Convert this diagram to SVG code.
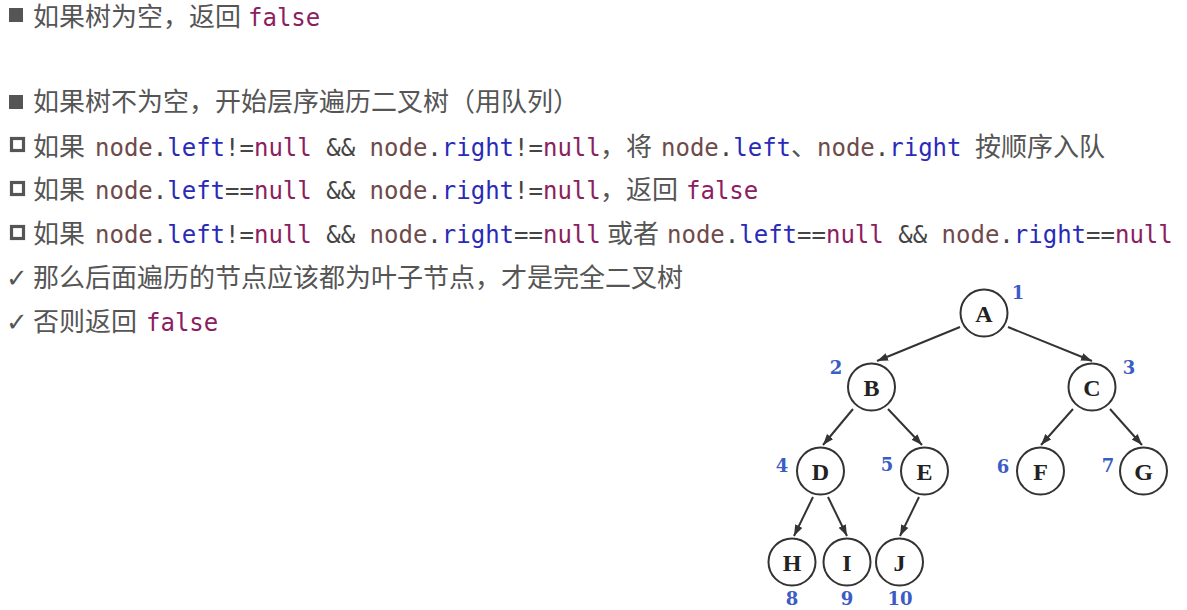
<svg xmlns="http://www.w3.org/2000/svg" width="1187" height="610" viewBox="0 0 1187 610">
<style>
.cjk{font-family:"Noto Sans CJK SC","Noto Sans",sans-serif;font-size:26px;fill:#555;}
.m{font-family:"DejaVu Sans Mono","Liberation Mono",monospace;font-size:24px;}
.n{fill:#6e4a4a}.d{fill:#444}.k{fill:#2a2ab8}.p{fill:#8b2060}
.chk{font-family:"DejaVu Sans",sans-serif;font-size:26px;fill:#555;}
.node circle{fill:#fff;stroke:#333;stroke-width:2;}
.node text{font-family:"Liberation Serif","DejaVu Serif",serif;font-weight:bold;font-size:24px;fill:#222;text-anchor:middle;}
.lbl{font-family:"DejaVu Serif","Liberation Serif",serif;font-weight:bold;font-size:18px;fill:#3a5cc4;text-anchor:middle;}
.edge{stroke:#333;stroke-width:2;fill:none;marker-end:url(#ah);}
.hb{fill:none;stroke:#555;stroke-width:3.2;}
</style>
<defs>
<marker id="ah" markerUnits="userSpaceOnUse" markerWidth="12" markerHeight="10" refX="11" refY="4" orient="auto">
<path d="M0,0 L11,4 L0,8 Z" fill="#333"/>
</marker>
</defs>
<rect width="1187" height="610" fill="#fff"/>
<g id="text">
<rect x="9" y="8" width="14" height="14" fill="#555"/>
<text y="26"><tspan class="cjk" x="33">如果树为空，返回</tspan><tspan class="m p" x="248">false</tspan></text>
<rect x="9" y="95" width="14" height="14" fill="#555"/>
<text y="111" class="cjk" x="33">如果树不为空，开始层序遍历二叉树（用队列）</text>

<rect class="hb" x="11.5" y="138.5" width="12" height="12"/>
<text y="156"><tspan class="cjk" x="33">如果</tspan><tspan class="m n" x="95">node</tspan><tspan class="m d">.</tspan><tspan class="m k">left</tspan><tspan class="m d">!=</tspan><tspan class="m p">null</tspan><tspan class="m d"> &amp;&amp; </tspan><tspan class="m n">node</tspan><tspan class="m d">.</tspan><tspan class="m k">right</tspan><tspan class="m d">!=</tspan><tspan class="m p">null</tspan><tspan class="cjk" x="600">，将</tspan><tspan class="m n" x="661">node</tspan><tspan class="m d">.</tspan><tspan class="m k">left</tspan><tspan class="cjk" x="791">、</tspan><tspan class="m n" x="817">node</tspan><tspan class="m d">.</tspan><tspan class="m k">right</tspan><tspan class="cjk" x="975">按顺序入队</tspan></text>

<rect class="hb" x="11.5" y="182.5" width="12" height="12"/>
<text y="199"><tspan class="cjk" x="33">如果</tspan><tspan class="m n" x="95">node</tspan><tspan class="m d">.</tspan><tspan class="m k">left</tspan><tspan class="m d">==</tspan><tspan class="m p">null</tspan><tspan class="m d"> &amp;&amp; </tspan><tspan class="m n">node</tspan><tspan class="m d">.</tspan><tspan class="m k">right</tspan><tspan class="m d">!=</tspan><tspan class="m p">null</tspan><tspan class="cjk" x="600">，返回</tspan><tspan class="m p" x="686">false</tspan></text>

<rect class="hb" x="11.5" y="226.5" width="12" height="12"/>
<text y="243"><tspan class="cjk" x="33">如果</tspan><tspan class="m n" x="95">node</tspan><tspan class="m d">.</tspan><tspan class="m k">left</tspan><tspan class="m d">!=</tspan><tspan class="m p">null</tspan><tspan class="m d"> &amp;&amp; </tspan><tspan class="m n">node</tspan><tspan class="m d">.</tspan><tspan class="m k">right</tspan><tspan class="m d">==</tspan><tspan class="m p">null</tspan><tspan class="cjk" x="607">或者</tspan><tspan class="m n" x="667">node</tspan><tspan class="m d">.</tspan><tspan class="m k">left</tspan><tspan class="m d">==</tspan><tspan class="m p">null</tspan><tspan class="m d"> &amp;&amp; </tspan><tspan class="m n">node</tspan><tspan class="m d">.</tspan><tspan class="m k">right</tspan><tspan class="m d">==</tspan><tspan class="m p">null</tspan></text>

<text class="chk" x="6" y="287">✓</text>
<text y="287" class="cjk" x="33">那么后面遍历的节点应该都为叶子节点，才是完全二叉树</text>
<text class="chk" x="6" y="331">✓</text>
<text y="331"><tspan class="cjk" x="33">否则返回</tspan><tspan class="m p" x="146">false</tspan></text>
</g>

<g id="connectors">
<line class="edge" x1="960" y1="327" x2="877" y2="361"/>
<line class="edge" x1="1008" y1="327" x2="1092" y2="361"/>
<line class="edge" x1="853" y1="409" x2="823" y2="445"/>
<line class="edge" x1="888" y1="409" x2="922" y2="445"/>
<line class="edge" x1="1073" y1="409" x2="1041" y2="445"/>
<line class="edge" x1="1110" y1="409" x2="1142" y2="445"/>
<line class="edge" x1="813" y1="497" x2="794" y2="536"/>
<line class="edge" x1="828" y1="497" x2="847" y2="536"/>
<line class="edge" x1="919" y1="497" x2="900" y2="536"/>
</g>

<g id="node-A" class="node"><circle cx="984" cy="313" r="23.5"/><text x="984" y="321.5">A</text></g>
<g id="node-B" class="node"><circle cx="871.5" cy="387" r="23.5"/><text x="871.5" y="395.5">B</text></g>
<g id="node-C" class="node"><circle cx="1092" cy="387" r="23.5"/><text x="1092" y="395.5">C</text></g>
<g id="node-D" class="node"><circle cx="820.5" cy="471" r="23.5"/><text x="820.5" y="479.5">D</text></g>
<g id="node-E" class="node"><circle cx="924.5" cy="471" r="23.5"/><text x="924.5" y="479.5">E</text></g>
<g id="node-F" class="node"><circle cx="1040.5" cy="471" r="23.5"/><text x="1040.5" y="479.5">F</text></g>
<g id="node-G" class="node"><circle cx="1143.5" cy="471" r="23.5"/><text x="1143.5" y="479.5">G</text></g>
<g id="node-H" class="node"><circle cx="792" cy="562" r="23.5"/><text x="792" y="570.5">H</text></g>
<g id="node-I" class="node"><circle cx="847" cy="562" r="23.5"/><text x="847" y="570.5">I</text></g>
<g id="node-J" class="node"><circle cx="899.5" cy="562" r="23.5"/><text x="899.5" y="570.5">J</text></g>

<g id="labels">
<text class="lbl" x="1018" y="299">1</text>
<text class="lbl" x="836" y="374">2</text>
<text class="lbl" x="1129" y="374">3</text>
<text class="lbl" x="782" y="472">4</text>
<text class="lbl" x="887" y="471">5</text>
<text class="lbl" x="1003" y="473">6</text>
<text class="lbl" x="1108" y="472">7</text>
<text class="lbl" x="792" y="605">8</text>
<text class="lbl" x="847" y="605">9</text>
<text class="lbl" x="900" y="605">10</text>
</g>
</svg>
